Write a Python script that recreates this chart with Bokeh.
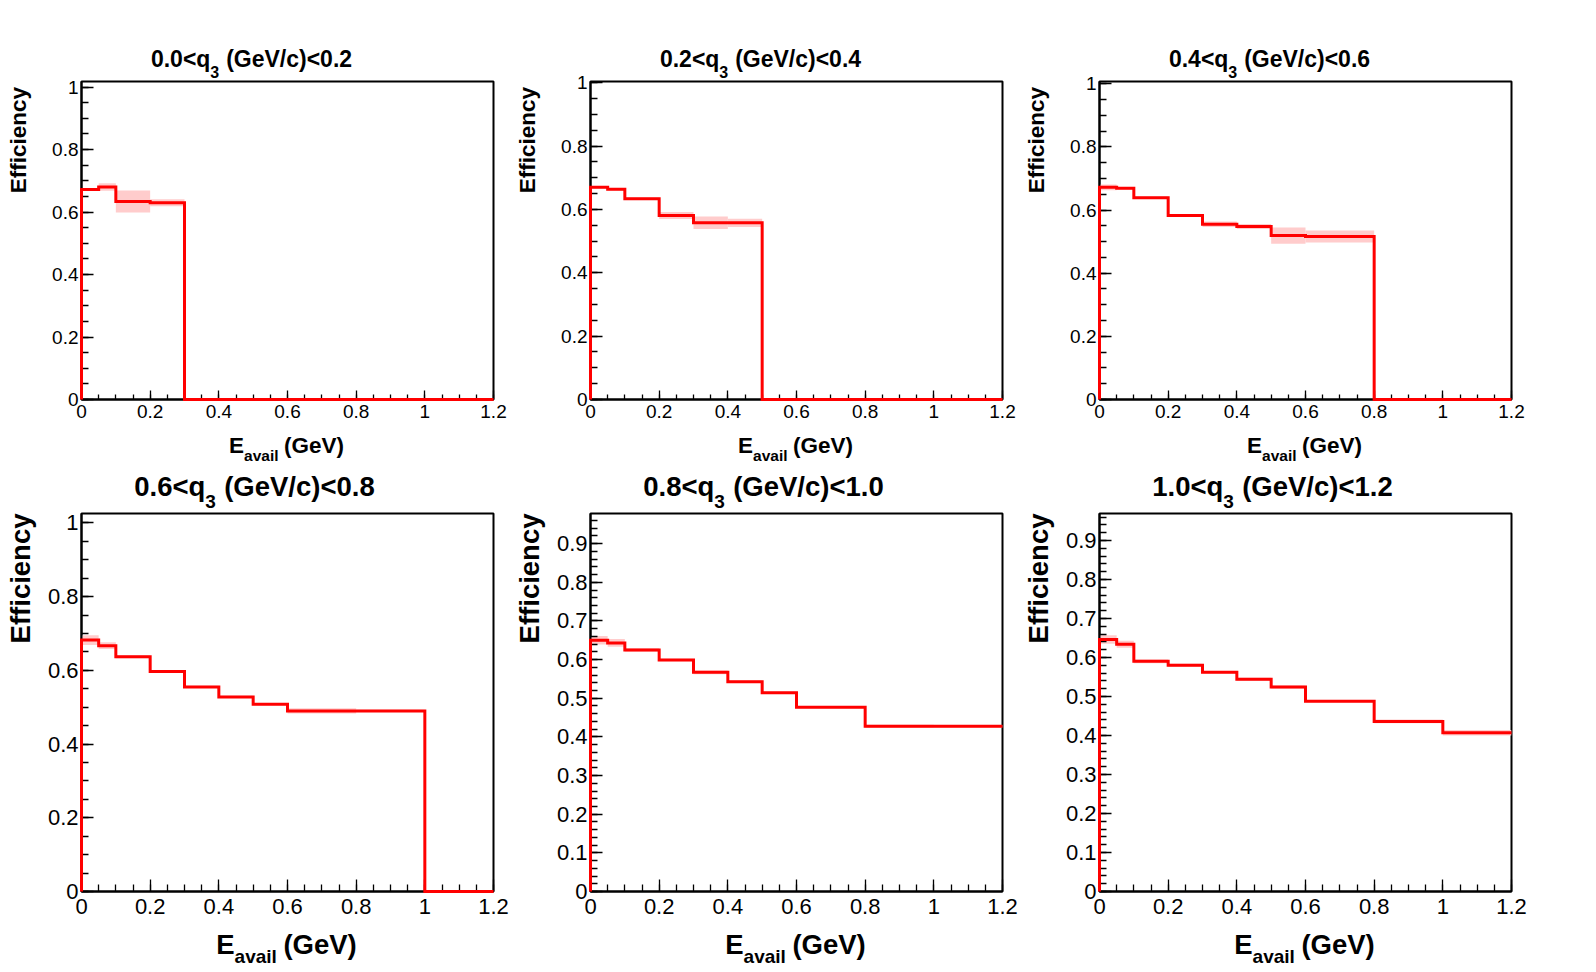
import numpy as np
from bokeh.plotting import figure
from bokeh.models import FixedTicker, CustomJSTickFormatter, Range1d
from bokeh.core.properties import value
from bokeh.layouts import row, column
from bokeh.embed import file_html
from bokeh.resources import INLINE

# ---------------- data ----------------
edges = [0.0, 0.05, 0.1, 0.2, 0.3, 0.4, 0.5, 0.6, 0.8, 1.0, 1.2]
q3_edges = ["0.0", "0.2", "0.4", "0.6", "0.8", "1.0", "1.2"]

eff_q0 = [0.672, 0.680, 0.634, 0.630, 0, 0, 0, 0, 0, 0]
err_q0 = [0.004, 0.012, 0.035, 0.011, 0, 0, 0, 0, 0, 0]
eff_q1 = [0.670, 0.664, 0.634, 0.581, 0.558, 0.558, 0, 0, 0, 0]
err_q1 = [0.004, 0.004, 0.004, 0.011, 0.020, 0.013, 0, 0, 0, 0]
eff_q2 = [0.672, 0.669, 0.639, 0.583, 0.555, 0.548, 0.519, 0.516, 0, 0]
err_q2 = [0.009, 0.004, 0.004, 0.004, 0.009, 0.008, 0.026, 0.019, 0, 0]
eff_q3 = [0.682, 0.667, 0.637, 0.597, 0.555, 0.528, 0.508, 0.490, 0.490, 0]
err_q3 = [0.013, 0.009, 0.004, 0.004, 0.003, 0.003, 0.003, 0.007, 0.003, 0]
eff_q4 = [0.650, 0.643, 0.625, 0.599, 0.567, 0.543, 0.514, 0.477, 0.4275, 0.4275]
err_q4 = [0.011, 0.010, 0.005, 0.003, 0.005, 0.003, 0.003, 0.003, 0.004, 0.003]
eff_q5 = [0.646, 0.634, 0.590, 0.580, 0.562, 0.544, 0.524, 0.488, 0.436, 0.407]
err_q5 = [0.011, 0.009, 0.005, 0.004, 0.003, 0.004, 0.004, 0.003, 0.005, 0.007]

y_max = [1.018, 1.004, 1.007, 1.0255, 0.978, 0.969]

x_ticks = [0, 0.2, 0.4, 0.6, 0.8, 1.0, 1.2]
y_ticks_coarse = [0, 0.2, 0.4, 0.6, 0.8, 1.0]
y_ticks_fine = [0, 0.1, 0.2, 0.3, 0.4, 0.5, 0.6, 0.7, 0.8, 0.9]

x_title_main = "E"
x_title_sub = "avail"
x_title_rest = "(GeV)"
y_title = "Efficiency"

# ---------------- styling helpers ----------------
FONT = "Liberation Sans"
RED = "#ff0000"
BAND = "#ffcccc"

# Arial / Liberation Sans Bold advance widths (per 1000 em)
BOLD_W = {'0': 556, '1': 556, '2': 556, '3': 556, '4': 556, '5': 556, '6': 556,
          '7': 556, '8': 556, '9': 556, '.': 278, '<': 584, 'q': 611, ' ': 278,
          '(': 333, ')': 333, 'G': 778, 'e': 556, 'V': 667, '/': 278, 'c': 556,
          'E': 667, 'a': 556, 'v': 556, 'i': 278, 'l': 278}


def text_width(s, size):
    return sum(BOLD_W.get(ch, 556) for ch in s) * size / 1000.0


FIG_W = 509
B_LEFT = 81
B_RIGHT = 16
FRAME_W = FIG_W - B_LEFT - B_RIGHT
X_SPAN = 1.2

fmt = CustomJSTickFormatter(code="return (Math.round(tick*10)/10).toString();")


def make_panel(k, vals, errs, ymax, bottom_row):
    if bottom_row:
        h, bt, bb = 502, 43, 81
        f_title, f_tsub = 27.5, 19
        f_axis, f_asub = 27.5, 19
        f_tick = 22
        x_std, y_std = 7, 3
        xt_major, xt_minor, yt_major, yt_minor = 12, 7, 12, 7
        title_cx, title_y, title_sub_dy = 173, 27, 15
        xt_y, xt_sub_dy = -53, 12
        yt_x, yt_top = -61.5, 0
    else:
        h, bt, bb = 470, 81, 71
        f_title, f_tsub = 23, 16
        f_axis, f_asub = 22.5, 15.5
        f_tick = 19
        x_std, y_std = 5, 3
        xt_major, xt_minor, yt_major, yt_minor = 9, 5, 12, 7
        title_cx, title_y, title_sub_dy = 170, 22.3, 13
        xt_y, xt_sub_dy = -46, 10
        yt_x, yt_top = -63, -5.5
    frame_h = h - bt - bb

    p = figure(width=FIG_W, height=h, output_backend="svg", toolbar_location=None,
               x_range=Range1d(0, X_SPAN), y_range=Range1d(0, ymax),
               min_border_left=B_LEFT, min_border_right=B_RIGHT,
               min_border_top=bt, min_border_bottom=bb)
    p.background_fill_color = "white"
    p.border_fill_color = "white"
    p.outline_line_color = "black"
    p.outline_line_width = 2
    p.outline_line_alpha = 1.0
    p.xgrid.visible = False
    p.ygrid.visible = False

    # pixel offset (relative to frame bottom-left) -> data coordinates
    def to_data(px, py):
        return px * X_SPAN / FRAME_W, py * ymax / frame_h

    def put(px, py, s, size, align="left", angle=0.0):
        xd, yd = to_data(px, py)
        p.text(x=[xd], y=[yd], text=[s], text_font=value(FONT),
               text_font_size=value(f"{size}px"), text_font_style=value("bold"),
               text_align=value(align), text_baseline=value("alphabetic"),
               text_color="black", angle=angle, level="overlay")

    def put_sub(cx, py_main, sub_dy, main, sub, rest, f_main, f_sub, gap_em):
        gap = gap_em * f_main
        total = text_width(main, f_main) + text_width(sub, f_sub) + gap + text_width(rest, f_main)
        x0 = cx - total / 2.0
        put(x0, py_main, main, f_main)
        x1 = x0 + text_width(main, f_main)
        put(x1, py_main - sub_dy, sub, f_sub)
        x2 = x1 + text_width(sub, f_sub) + gap
        put(x2, py_main, rest, f_main)

    # error band
    v = np.array(vals, dtype=float)
    e = np.array(errs, dtype=float)
    ed = np.array(edges, dtype=float)
    m = e > 0
    p.quad(left=ed[:-1][m], right=ed[1:][m], bottom=(v - e)[m], top=(v + e)[m],
           fill_color=BAND, line_color=None)

    # step histogram
    xs = np.concatenate([[ed[0]], np.repeat(ed, 2)[1:-1]])
    ys = np.concatenate([[0.0], np.repeat(v, 2)])
    p.line(xs, ys, line_color=RED, line_width=3, line_join="miter", level="overlay")

    # axes
    x_minor = list(np.round(np.arange(0, X_SPAN + 1e-6, 0.05), 3))
    if k >= 4:
        yt = y_ticks_fine
        y_minor = list(np.round(np.arange(0, ymax, 0.02), 3))
    else:
        yt = y_ticks_coarse
        y_minor = list(np.round(np.arange(0, ymax, 0.05), 3))
    p.xaxis.ticker = FixedTicker(ticks=x_ticks, minor_ticks=x_minor)
    p.yaxis.ticker = FixedTicker(ticks=yt, minor_ticks=y_minor)
    for ax, std, tmaj, tmin in ((p.xaxis, x_std, xt_major, xt_minor),
                                (p.yaxis, y_std, yt_major, yt_minor)):
        ax.formatter = fmt
        ax.axis_line_width = 2
        ax.axis_line_color = "black"
        ax.major_tick_in = int(tmaj)
        ax.major_tick_out = 0
        ax.minor_tick_in = int(tmin)
        ax.minor_tick_out = 0
        ax.major_tick_line_width = 1.3
        ax.minor_tick_line_width = 1.3
        ax.major_label_text_font = FONT
        ax.major_label_text_font_size = f"{f_tick}px"
        ax.major_label_text_color = "black"
        ax.major_label_standoff = int(std)

    # texts
    lo, hi = q3_edges[k], q3_edges[k + 1]
    put_sub(title_cx, frame_h + title_y, title_sub_dy, f"{lo}<q", "3",
            f"(GeV/c)<{hi}", f_title, f_tsub, 0.30)
    put_sub(205, xt_y, xt_sub_dy, x_title_main, x_title_sub, x_title_rest,
            f_axis, f_asub, 0.24)
    put(yt_x, frame_h + yt_top, y_title, f_axis, align="right", angle=np.pi / 2)
    return p


effs = [eff_q0, eff_q1, eff_q2, eff_q3, eff_q4, eff_q5]
errs = [err_q0, err_q1, err_q2, err_q3, err_q4, err_q5]
panels = [make_panel(k, effs[k], errs[k], y_max[k], k >= 3) for k in range(6)]

layout = column(row(*panels[:3]), row(*panels[3:]))
open("out.html", "w").write(file_html(layout, INLINE))
